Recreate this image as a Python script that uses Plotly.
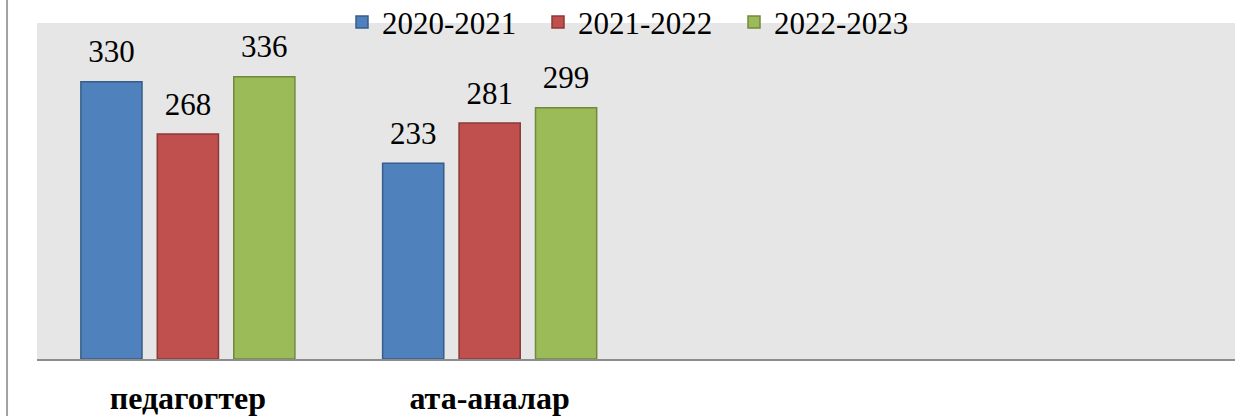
import plotly.graph_objects as go

categories = ["педагогтер", "ата-аналар", " ", "  "]
series_names = ["2020-2021", "2021-2022", "2022-2023"]
values_2020 = [330, 233]
values_2021 = [268, 281]
values_2022 = [336, 299]

fills = ["#4F81BD", "#C0504D", "#9BBB59"]
edges = ["#385D8A", "#8C3836", "#71893F"]
SERIF = "Liberation Serif, Times New Roman, serif"

fig = go.Figure()
for i, (name, vals, fc, ec) in enumerate(zip(series_names, [values_2020, values_2021, values_2022], fills, edges)):
    fig.add_trace(go.Bar(
        x=categories[:len(vals)], y=vals, name=name,
        marker=dict(color=fc, line=dict(color=ec, width=1.5)),
        offsetgroup=str(i), alignmentgroup="a", hoverinfo="skip",
    ))
for i, (name, vals) in enumerate(zip(series_names, [values_2020, values_2021, values_2022])):
    fig.add_trace(go.Scatter(
        x=categories[:len(vals)], y=vals, mode="markers+text", showlegend=False,
        marker=dict(size=17, opacity=0), text=[str(v) for v in vals],
        textposition="top center", cliponaxis=False, hoverinfo="skip",
        textfont=dict(family=SERIF, size=31, color="black"),
        offsetgroup=str(i), alignmentgroup="a",
    ))

fig.update_layout(
    width=1235, height=416,
    margin=dict(l=37, r=0, t=23, b=57, autoexpand=False),
    paper_bgcolor="white", plot_bgcolor="#E6E6E6",
    barmode="group", bargap=0.24, bargroupgap=0.2,
    scattermode="group", scattergap=0.24,
    font=dict(family=SERIF, color="black"),
    showlegend=True,
    legend=dict(orientation="h", x=0.5, xanchor="center", y=0.946, yref="container", yanchor="middle",
                font=dict(family=SERIF, size=31, color="black"),
                bgcolor="rgba(0,0,0,0)", itemwidth=30, entrywidth=151, traceorder="normal"),
    xaxis=dict(type="category", categoryorder="array", categoryarray=categories,
               range=[-0.5, 3.47], showgrid=False, zeroline=False, automargin=False,
               showline=True, linecolor="#8C8C8C", linewidth=2,
               ticks="", ticklabelstandoff=10,
               tickfont=dict(family=SERIF, size=32, color="black", weight="bold")),
    yaxis=dict(range=[0, 400], showgrid=False, zeroline=False, showline=False, automargin=False,
               showticklabels=False, ticks=""),
    shapes=[dict(type="line", xref="paper", yref="paper", x0=-0.025, x1=-0.025,
                 y0=-0.3, y1=1.2, line=dict(color="#A0A0A0", width=2))],
)

fig.write_html("out.html", config={"displayModeBar": False},
               post_script="document.body.style.margin='0';")
